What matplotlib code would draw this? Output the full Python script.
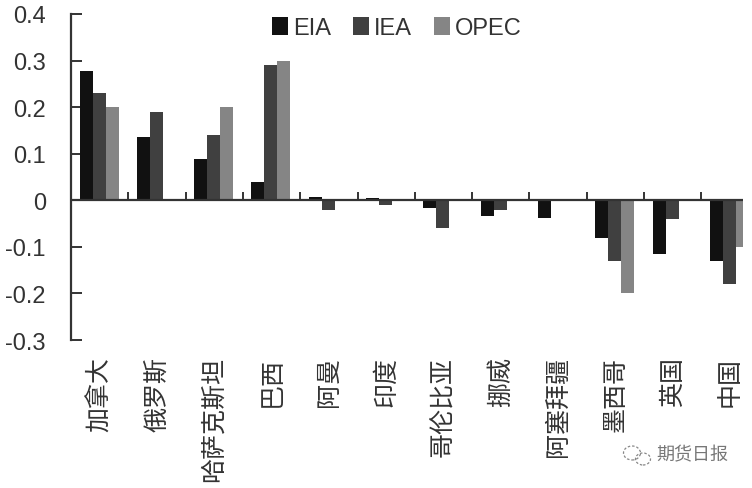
import matplotlib
matplotlib.use("Agg")
import matplotlib.pyplot as plt
import numpy as np
from matplotlib.patches import Ellipse
from matplotlib.transforms import blended_transform_factory

categories = ["加拿大", "俄罗斯", "哈萨克斯坦", "巴西", "阿曼", "印度",
              "哥伦比亚", "挪威", "阿塞拜疆", "墨西哥", "英国", "中国"]
eia = [0.278, 0.135, 0.088, 0.04, 0.007, 0.004, -0.017, -0.033, -0.037, -0.08, -0.115, -0.13]
iea = [0.23, 0.19, 0.14, 0.29, -0.02, -0.01, -0.06, -0.02, 0, -0.13, -0.04, -0.18]
opec = [0.2, 0, 0.2, 0.3, 0, 0, 0, 0, 0, -0.2, 0, -0.1]
series_names = ["EIA", "IEA", "OPEC"]
y_ticks = [0.4, 0.3, 0.2, 0.1, 0, -0.1, -0.2, -0.3]
y_labels = ["0.4", "0.3", "0.2", "0.1", "0", "-0.1", "-0.2", "-0.3"]

W, H = 752, 489
plt.rcParams['font.family'] = ['Liberation Sans', 'Noto Sans CJK SC', 'DejaVu Sans']
fig = plt.figure(figsize=(W / 100, H / 100), dpi=100)
left, right, top, bottom = 71, 743, 15, 341
ax = fig.add_axes([left / W, 1 - bottom / H, (right - left) / W, (bottom - top) / H])

ink = "#333333"
colors = ["#111111", "#404040", "#858585"]
x = np.arange(len(categories))
w = 0.227
for k, (vals, name, c) in enumerate(zip([eia, iea, opec], series_names, colors)):
    ax.bar(x + (k - 1) * w - 0.01, vals, w, color=c, label=name, zorder=2)

ax.set_xlim(-0.5, -0.5 + (right - left) / 57.3)
ax.set_ylim(-0.3, 0.4)
for s in ("top", "right", "bottom"):
    ax.spines[s].set_visible(False)
ax.spines["left"].set_color(ink)
ax.spines["left"].set_linewidth(1.6)
ax.spines["left"].set_zorder(3)

ax.set_yticks(y_ticks, y_labels)
ax.tick_params(axis="y", direction="in", length=8, width=1.4, color=ink,
               labelcolor=ink, labelsize=17, pad=18)

ax.axhline(0, color=ink, lw=1.6, zorder=3)
ax.vlines(x[:-1] + 0.5, 0, 0.017, color=ink, lw=1.4, zorder=3)
ax.set_xticks([])

trans = blended_transform_factory(ax.transData, ax.transAxes)
for xi, name in zip(x, categories):
    ax.text(xi, -0.048, name, transform=trans, rotation=90, ha="center", va="top",
            fontsize=18, color=ink)

leg = ax.legend(ncol=3, loc="upper left", bbox_to_anchor=(0.299, 0.99), frameon=False,
                fontsize=17, handlelength=0.68, handleheight=0.75, handletextpad=0.2,
                columnspacing=0.95, borderaxespad=0, borderpad=0)
for t in leg.get_texts():
    t.set_color(ink)

fig.text(728 / W, 1 - 456 / H, "期货日报", ha="right", va="center", fontsize=13, color="#777777")
for cx, cy, ew, eh in [(632, 454, 17, 14), (643, 460, 15, 12)]:
    fig.add_artist(Ellipse((cx / W, 1 - cy / H), ew / W, eh / H, transform=fig.transFigure,
                           fill=False, ec="#888888", lw=0.9, ls=(0, (2, 1.5))))
fig.savefig("out.png", dpi=100, facecolor="white")
